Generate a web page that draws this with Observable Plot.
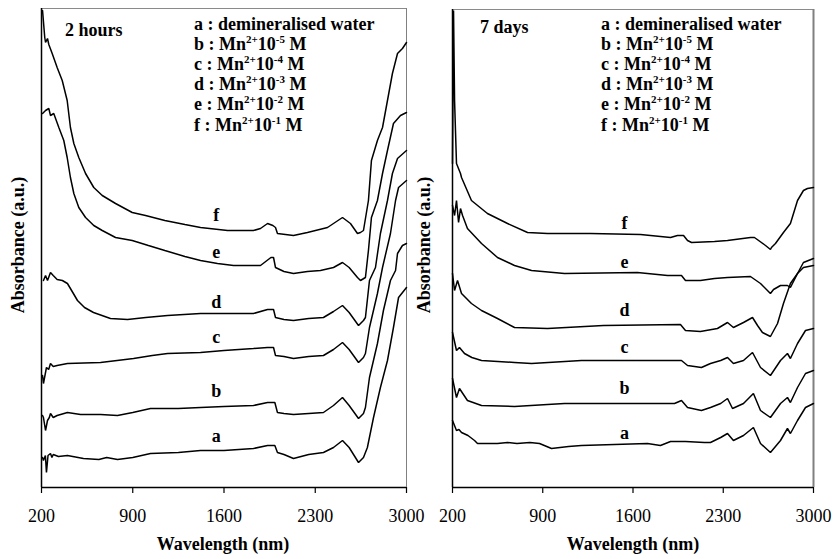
<!DOCTYPE html>
<html>
<head>
<meta charset="utf-8">
<script src="https://cdn.jsdelivr.net/npm/d3@7"></script>
<script src="https://cdn.jsdelivr.net/npm/@observablehq/plot@0.6"></script>
<style>
  html, body { margin: 0; padding: 0; background: #fff; }
  #wrap { position: relative; width: 834px; height: 559px; overflow: hidden; }
  #wrap svg { position: absolute; top: 0; }
</style>
</head>
<body>
<div id="wrap"></div>
<script>
// ---- data (wavelength nm, absorbance a.u., offset traces) ----
const ticksX = [200, 900, 1600, 2300, 3000];
const keys = ["a", "b", "c", "d", "e", "f"];
const legendRows = [
  ["a : demineralised water"],
  ["b : Mn", "2+", "10", "-5", " M"],
  ["c : Mn", "2+", "10", "-4", " M"],
  ["d : Mn", "2+", "10", "-3", " M"],
  ["e : Mn", "2+", "10", "-2", " M"],
  ["f : Mn", "2+", "10", "-1", " M"]
];
const panelTitles = ["2 hours", "7 days"];
const yLabel = "Absorbance (a.u.)";
const xLabel = "Wavelength (nm)";

// 2 hours
const h2_a = [[208,0.30],[215,0.27],[230,0.32],[238,0.15],[250,0.32],[269,0.34],[280,0.30],[290,0.33],[330,0.31],[399,0.32],[522,0.29],[640,0.28],[700,0.30],[783,0.28],[900,0.30],[1036,0.34],[1250,0.35],[1420,0.37],[1600,0.37],[1826,0.39],[1934,0.42],[1990,0.42],[2010,0.35],[2060,0.33],[2133,0.29],[2250,0.33],[2363,0.35],[2440,0.40],[2509,0.47],[2560,0.40],[2632,0.25],[2670,0.30],[2700,0.40],[2747,0.70],[2800,1.00],[2854,1.27],[2900,1.60],[2939,1.90],[3000,2.00]];
const h2_b = [[208,0.72],[215,0.70],[231,0.57],[246,0.67],[260,0.70],[269,0.74],[290,0.70],[320,0.72],[399,0.75],[500,0.73],[653,0.73],[783,0.72],[900,0.75],[1036,0.79],[1250,0.79],[1420,0.80],[1600,0.81],[1826,0.82],[1934,0.85],[1990,0.85],[2010,0.75],[2060,0.74],[2133,0.73],[2250,0.74],[2363,0.75],[2440,0.82],[2509,0.90],[2560,0.82],[2632,0.69],[2670,0.74],[2685,0.80],[2716,1.10],[2777,1.44],[2823,1.77],[2877,2.07],[2916,2.17],[2931,2.34],[2969,2.42],[3000,2.44]];
const h2_c = [[208,1.12],[215,1.04],[238,1.20],[255,1.18],[269,1.24],[290,1.21],[320,1.22],[399,1.24],[653,1.25],[780,1.27],[906,1.29],[1050,1.32],[1167,1.34],[1420,1.35],[1600,1.37],[1826,1.39],[1934,1.40],[1980,1.40],[1995,1.32],[2060,1.31],[2133,1.29],[2250,1.31],[2363,1.32],[2440,1.38],[2509,1.45],[2560,1.38],[2632,1.25],[2670,1.30],[2685,1.34],[2716,1.60],[2777,1.94],[2816,2.20],[2877,2.54],[2916,2.87],[2939,3.00],[3000,3.07]];
const h2_d = [[215,2.07],[231,2.12],[246,2.07],[269,2.15],[290,2.12],[320,2.08],[360,2.07],[399,2.04],[440,1.95],[476,1.87],[530,1.80],[599,1.75],[729,1.69],[860,1.68],[1000,1.70],[1167,1.72],[1420,1.74],[1826,1.74],[1934,1.78],[1980,1.78],[1995,1.70],[2060,1.68],[2133,1.67],[2250,1.69],[2363,1.70],[2440,1.76],[2509,1.82],[2560,1.75],[2632,1.62],[2670,1.67],[2685,1.70],[2716,2.07],[2762,2.20],[2800,2.54],[2854,2.87],[2892,3.14],[2931,3.29],[3000,3.37]];
const h2_e = [[208,3.74],[231,3.77],[256,3.79],[269,3.72],[294,3.74],[333,3.60],[371,3.47],[397,3.30],[422,3.10],[448,2.94],[486,2.80],[538,2.70],[601,2.62],[666,2.57],[768,2.50],[896,2.47],[1020,2.42],[1146,2.37],[1300,2.31],[1420,2.27],[1550,2.24],[1673,2.22],[1880,2.22],[1960,2.30],[1980,2.30],[1995,2.20],[2060,2.16],[2133,2.14],[2240,2.16],[2340,2.17],[2440,2.20],[2509,2.25],[2560,2.20],[2624,2.10],[2647,2.07],[2685,2.10],[2708,2.37],[2731,2.70],[2777,2.87],[2816,3.14],[2854,3.37],[2900,3.64],[2954,3.72],[3000,3.75]];
const h2_f = [[208,4.77],[225,4.50],[231,4.45],[246,4.49],[256,4.43],[282,4.34],[320,4.20],[359,4.07],[397,3.87],[422,3.60],[448,3.44],[486,3.30],[538,3.14],[601,3.00],[666,2.92],[768,2.84],[896,2.75],[998,2.72],[1146,2.67],[1300,2.63],[1420,2.60],[1627,2.57],[1826,2.57],[1880,2.59],[1934,2.64],[1975,2.62],[1995,2.60],[2010,2.54],[2133,2.52],[2240,2.55],[2394,2.60],[2440,2.64],[2509,2.70],[2570,2.64],[2624,2.54],[2647,2.55],[2670,2.57],[2708,2.87],[2731,3.27],[2777,3.47],[2816,3.60],[2854,3.87],[2892,4.14],[2931,4.34],[2969,4.39],[3000,4.45]];
const h2_labelX = 1540;
const h2_labelY = [0.51, 0.96, 1.50, 1.85, 2.35, 2.72];

// 7 days
const d7_a = [[200,0.67],[231,0.57],[250,0.58],[270,0.55],[320,0.52],[371,0.47],[394,0.44],[549,0.44],[627,0.45],[700,0.44],[800,0.45],[875,0.44],[968,0.39],[1100,0.41],[1200,0.42],[1712,0.44],[1813,0.42],[1891,0.46],[2007,0.46],[2154,0.45],[2201,0.45],[2280,0.50],[2333,0.54],[2379,0.47],[2457,0.52],[2534,0.60],[2589,0.44],[2666,0.35],[2744,0.47],[2798,0.59],[2821,0.54],[2876,0.67],[2938,0.80],[3000,0.84]];
const d7_b = [[200,1.09],[231,0.90],[254,0.99],[290,0.92],[316,0.87],[425,0.82],[681,0.81],[937,0.83],[1069,0.84],[1922,0.84],[1976,0.87],[2023,0.80],[2131,0.77],[2201,0.80],[2280,0.84],[2333,0.89],[2372,0.79],[2457,0.84],[2534,0.94],[2589,0.77],[2666,0.70],[2744,0.84],[2798,0.90],[2821,0.85],[2876,1.00],[2938,1.14],[3000,1.17]];
const d7_c = [[200,1.55],[231,1.37],[254,1.40],[293,1.34],[350,1.30],[425,1.27],[681,1.25],[813,1.24],[1200,1.27],[1976,1.27],[2023,1.22],[2131,1.20],[2201,1.24],[2280,1.27],[2333,1.30],[2379,1.24],[2457,1.27],[2527,1.35],[2589,1.20],[2666,1.12],[2744,1.27],[2798,1.34],[2821,1.29],[2876,1.44],[2938,1.57],[3000,1.59]];
const d7_d = [[200,2.14],[216,1.97],[239,2.07],[270,1.94],[347,1.84],[425,1.77],[549,1.69],[681,1.60],[937,1.59],[1371,1.62],[1968,1.63],[2007,1.57],[2123,1.56],[2255,1.59],[2333,1.65],[2379,1.60],[2457,1.65],[2527,1.70],[2566,1.62],[2604,1.55],[2666,1.51],[2721,1.64],[2767,1.84],[2821,2.04],[2876,2.14],[2922,2.20],[3000,2.22]];
const d7_e = [[200,2.82],[216,2.72],[231,2.87],[247,2.65],[262,2.79],[278,2.72],[316,2.59],[425,2.44],[549,2.30],[681,2.22],[813,2.17],[1069,2.14],[1634,2.15],[1868,2.12],[1976,2.12],[2007,2.07],[2123,2.07],[2232,2.09],[2333,2.10],[2511,2.11],[2589,2.04],[2666,1.94],[2690,1.98],[2744,2.02],[2798,2.02],[2821,2.00],[2876,2.14],[2922,2.25],[3000,2.29]];
const d7_f = [[200,3.24],[208,4.77],[216,3.87],[231,3.24],[262,3.14],[270,3.10],[347,2.87],[471,2.74],[627,2.64],[782,2.55],[937,2.54],[1270,2.54],[1658,2.53],[1891,2.50],[1945,2.52],[1992,2.52],[2023,2.47],[2054,2.45],[2232,2.46],[2333,2.47],[2511,2.50],[2542,2.50],[2628,2.42],[2666,2.38],[2674,2.40],[2705,2.44],[2767,2.55],[2821,2.64],[2876,2.87],[2922,2.97],[2953,2.99],[3000,3.00]];
const d7_labelX = 1534;
const d7_labelY = [0.54, 0.99, 1.40, 1.77, 2.25, 2.64];

// ---- build ----
const FONT = "Liberation Serif, Times New Roman, serif";

function toRows(seriesList) {
  const rows = [];
  seriesList.forEach((s, i) => s.forEach(([nm, a]) => rows.push({key: keys[i], nm, abs: a})));
  return rows;
}

function panel({series, labelX, labelY, width, marginLeft, marginRight, marginTop, ymax, borderRight}) {
  const labels = keys.map((k, i) => ({k, x: labelX, y: labelY[i]}));
  return Plot.plot({
    width, height: 559,
    marginLeft, marginRight, marginTop, marginBottom: 72,
    x: {domain: [200, 3000]},
    y: {domain: [0, ymax], axis: null},
    style: {background: "transparent", overflow: "visible", fontFamily: FONT},
    marks: [
      Plot.frame({stroke: "#8a8a8a", strokeWidth: 1}),
      Plot.ruleX([3000], {stroke: "#808080", strokeWidth: borderRight}),
      Plot.ruleX([200], {stroke: "black", strokeWidth: 1.5}),
      Plot.ruleY([0], {stroke: "black", strokeWidth: 1.5}),
      Plot.line(toRows(series), {x: "nm", y: "abs", z: "key", stroke: "black", strokeWidth: 1.5, strokeLinejoin: "miter"}),
      Plot.text(labels, {x: "x", y: "y", text: "k", fontSize: 18, fontWeight: "bold", fontFamily: FONT, fill: "black"}),
      Plot.axisX({ticks: ticksX, tickFormat: d => String(d), tickSize: 6, tickPadding: 16, fontSize: 18, fontFamily: FONT, label: null, stroke: "black", strokeWidth: 1.2, color: "black"})
    ]
  });
}

const wrap = document.getElementById("wrap");
const left = panel({series: [h2_a, h2_b, h2_c, h2_d, h2_e, h2_f], labelX: h2_labelX, labelY: h2_labelY,
  width: 414, marginLeft: 41, marginRight: 8, marginTop: 8, ymax: 4.79, borderRight: 1});
left.style.left = "0px";
const right = panel({series: [d7_a, d7_b, d7_c, d7_d, d7_e, d7_f], labelX: d7_labelX, labelY: d7_labelY,
  width: 420, marginLeft: 38, marginRight: 21, marginTop: 9, ymax: 4.78, borderRight: 2});
right.style.left = "414px";
wrap.appendChild(left);
wrap.appendChild(right);

// overlay text: titles, legends, axis labels
const ov = d3.select(wrap).append("svg")
  .attr("width", 834).attr("height", 559)
  .style("left", "0px").style("pointer-events", "none")
  .style("font-family", FONT).style("font-size", "18px").style("font-weight", "bold").attr("fill", "black");

[[65, 36, panelTitles[0]], [480, 33, panelTitles[1]]].forEach(([x, y, t]) =>
  ov.append("text").attr("x", x).attr("y", y).text(t));

[194, 601].forEach(x0 => {
  legendRows.forEach((parts, i) => {
    const t = ov.append("text").attr("x", x0).attr("y", 30 + i * 20.1);
    parts.forEach((p, j) => {
      const sup = j % 2 === 1;
      const ts = t.append("tspan").text(p);
      if (sup) ts.style("font-size", "11px").attr("dy", -7);
      else if (j > 0) ts.attr("dy", 7);
    });
  });
});

[[18, 245], [424, 245]].forEach(([x, y]) =>
  ov.append("text").attr("transform", `translate(${x},${y}) rotate(-90)`)
    .attr("text-anchor", "middle").attr("dominant-baseline", "central").text(yLabel));

[[223, 550], [633, 550]].forEach(([x, y]) =>
  ov.append("text").attr("x", x).attr("y", y).attr("text-anchor", "middle").text(xLabel));
</script>
</body>
</html>
